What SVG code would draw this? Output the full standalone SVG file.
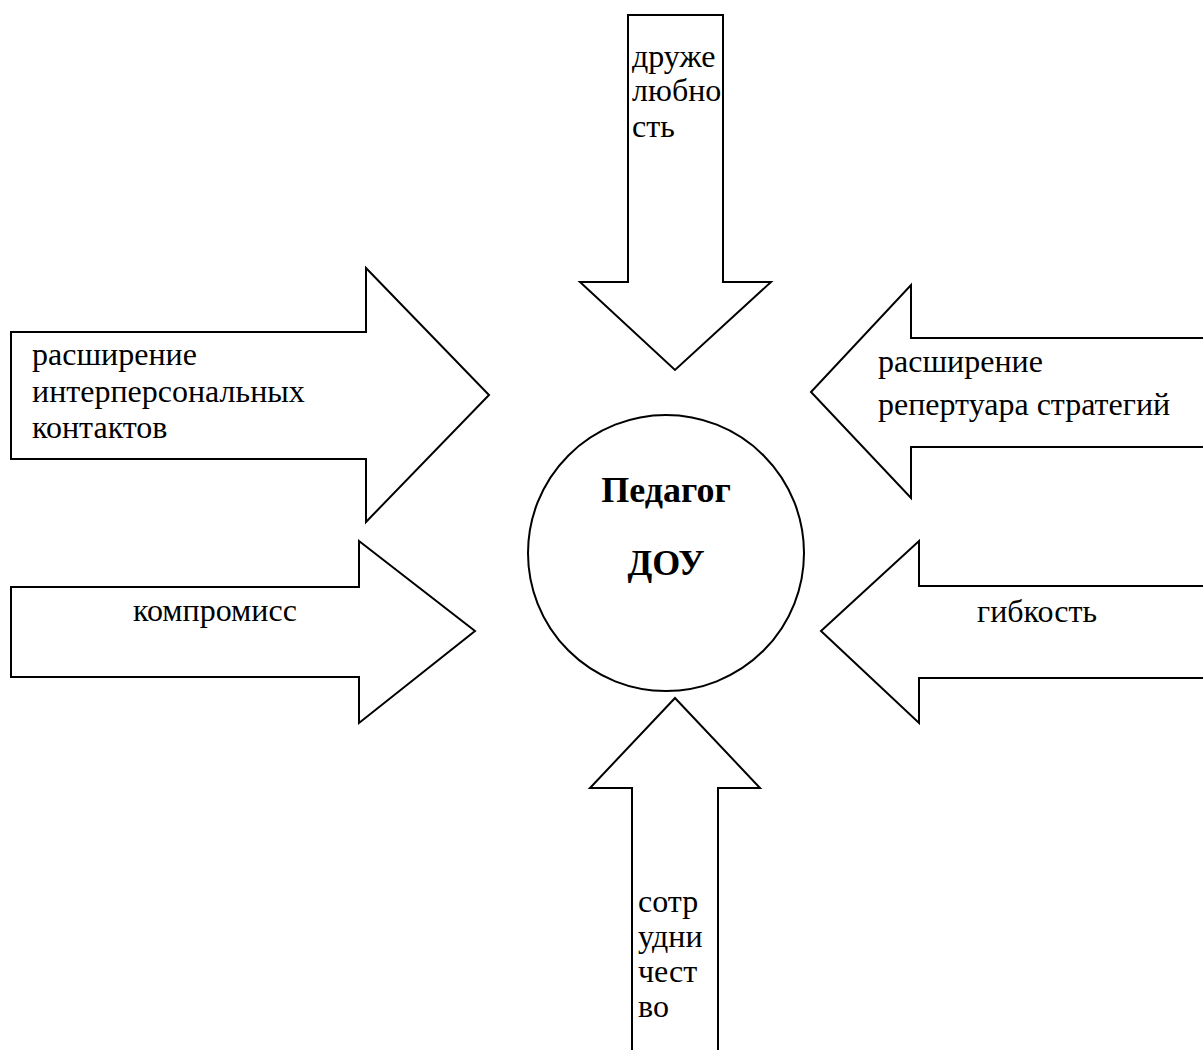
<svg xmlns="http://www.w3.org/2000/svg" width="1203" height="1050" viewBox="0 0 1203 1050">
<style>
.arrow{fill:#fff;stroke:#000;stroke-width:2;stroke-linejoin:miter}
.lbl{font-family:"Liberation Serif","Times New Roman",serif;font-size:32px;fill:#000}
.ctr{font-family:"Liberation Serif","Times New Roman",serif;font-size:36px;font-weight:bold;fill:#000}
</style>
<rect width="1203" height="1050" fill="#fff"/>
<g id="connectors">
<g id="arrow-top">
<polygon class="arrow" points="628,15 723,15 723,282 771,282 675,370 580,282 628,282"/>
<text class="lbl" x="632" y="67">друже</text>
<text class="lbl" x="632" y="101">любно</text>
<text class="lbl" x="632" y="137">сть</text>
</g>
<g id="arrow-left-1">
<polygon class="arrow" points="11,332 366,332 366,268 489,395 366,522 366,459 11,459"/>
<text class="lbl" x="32" y="365">расширение</text>
<text class="lbl" x="32" y="402">интерперсональных</text>
<text class="lbl" x="32" y="438">контактов</text>
</g>
<g id="arrow-right-1">
<polygon class="arrow" points="1210,338 911,338 911,285 811,392 911,498 911,447 1210,447"/>
<text class="lbl" x="878" y="372">расширение</text>
<text class="lbl" x="878" y="415">репертуара стратегий</text>
</g>
<g id="arrow-left-2">
<polygon class="arrow" points="11,587 359,587 359,541 475,631 359,723 359,677 11,677"/>
<text class="lbl" x="133" y="621">компромисс</text>
</g>
<g id="arrow-right-2">
<polygon class="arrow" points="1210,586 919,586 919,541 821,631 919,723 919,678 1210,678"/>
<text class="lbl" x="977" y="622">гибкость</text>
</g>
<g id="arrow-bottom">
<polygon class="arrow" points="632,1060 632,788 590,788 675,698 760,788 718,788 718,1060"/>
<text class="lbl" x="638" y="912">сотр</text>
<text class="lbl" x="638" y="947">удни</text>
<text class="lbl" x="638" y="982">чест</text>
<text class="lbl" x="638" y="1017">во</text>
</g>
</g>
<g id="node-center">
<circle cx="666" cy="553" r="138" fill="#fff" stroke="#000" stroke-width="2"/>
<text class="ctr" x="666" y="502" text-anchor="middle">Педагог</text>
<text class="ctr" x="666" y="575" text-anchor="middle">ДОУ</text>
</g>
</svg>
